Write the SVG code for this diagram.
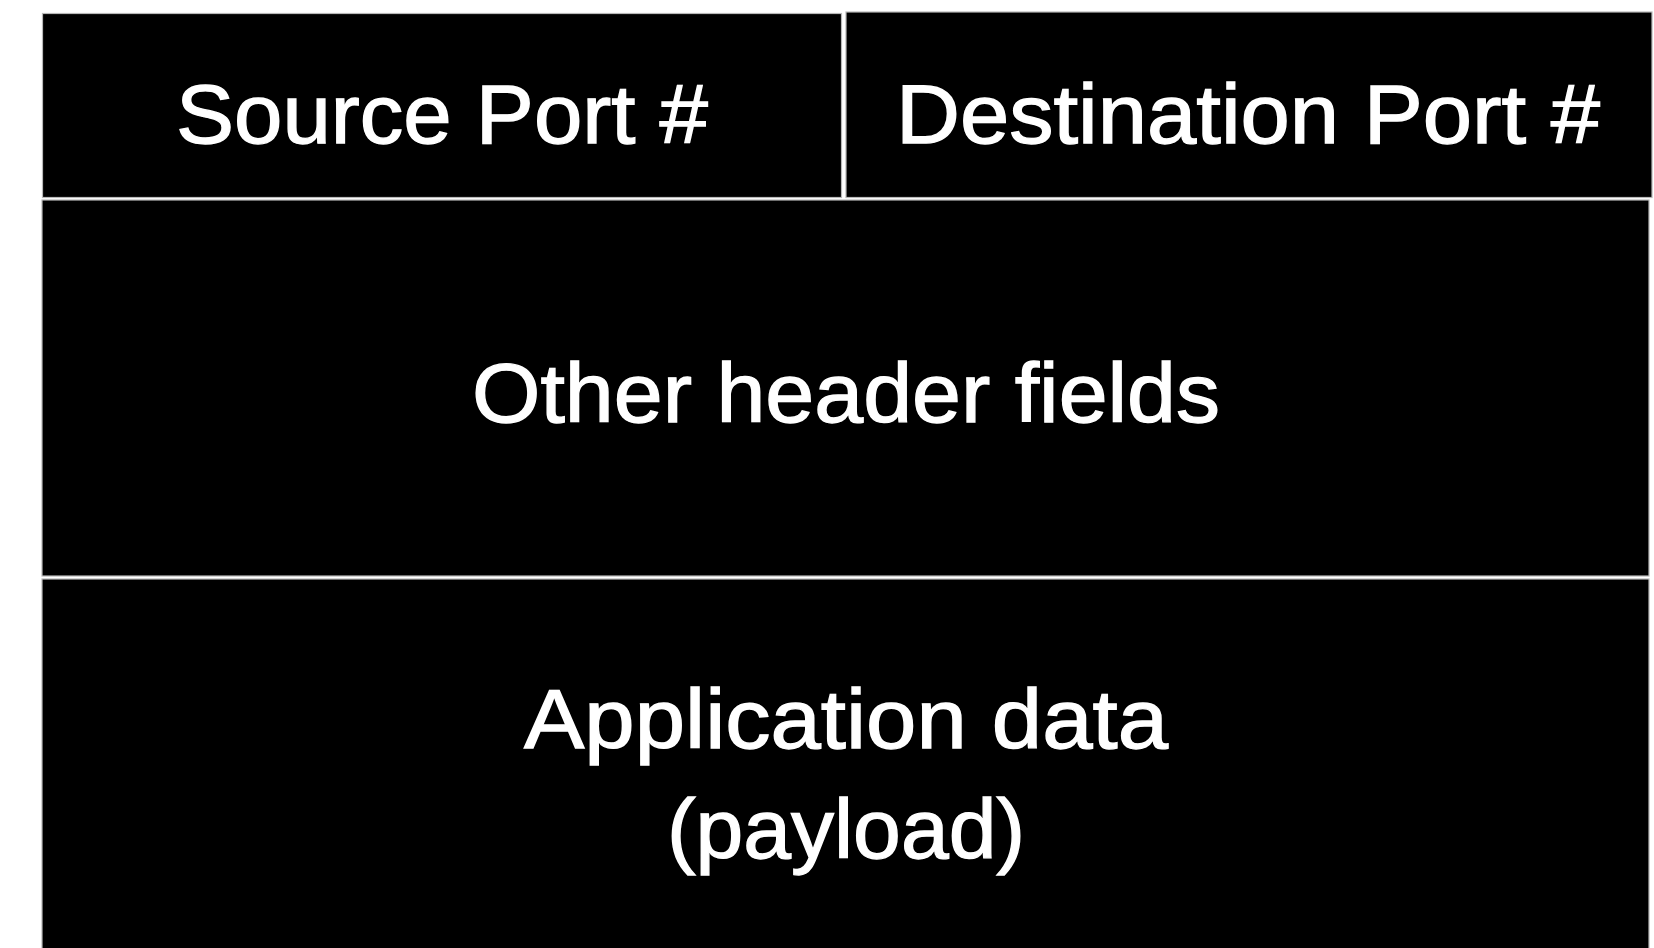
<svg xmlns="http://www.w3.org/2000/svg" width="1654" height="948" viewBox="0 0 1654 948">
  <style>
    .field { fill: #000000; stroke: #b8b8b8; stroke-width: 1.2; }
    .label { fill: #ffffff; stroke: #ffffff; stroke-width: 1.3; font-family: "Liberation Sans", Arial, Helvetica, sans-serif; font-size: 84px; text-anchor: middle; }
  </style>
  <rect x="0" y="0" width="1654" height="948" fill="#ffffff"/>
  <g id="source-port">
    <rect class="field" x="42.5" y="13.5" width="799" height="184"/>
    <text class="label" x="442" y="143" textLength="532" lengthAdjust="spacingAndGlyphs">Source Port #</text>
  </g>
  <g id="destination-port">
    <rect class="field" x="846" y="12" width="806" height="185.5"/>
    <text class="label" x="1248" y="143" textLength="704" lengthAdjust="spacingAndGlyphs">Destination Port #</text>
  </g>
  <g id="other-header-fields">
    <rect class="field" x="42" y="200" width="1607" height="376"/>
    <text class="label" x="846" y="422" textLength="748" lengthAdjust="spacingAndGlyphs">Other header fields</text>
  </g>
  <g id="application-data">
    <rect class="field" x="42" y="579" width="1607" height="380"/>
    <text class="label" x="846" y="748" textLength="644" lengthAdjust="spacingAndGlyphs">Application data</text>
    <text class="label" x="846" y="858" textLength="358" lengthAdjust="spacingAndGlyphs">(payload)</text>
  </g>
  <g id="connectors"/>
</svg>
